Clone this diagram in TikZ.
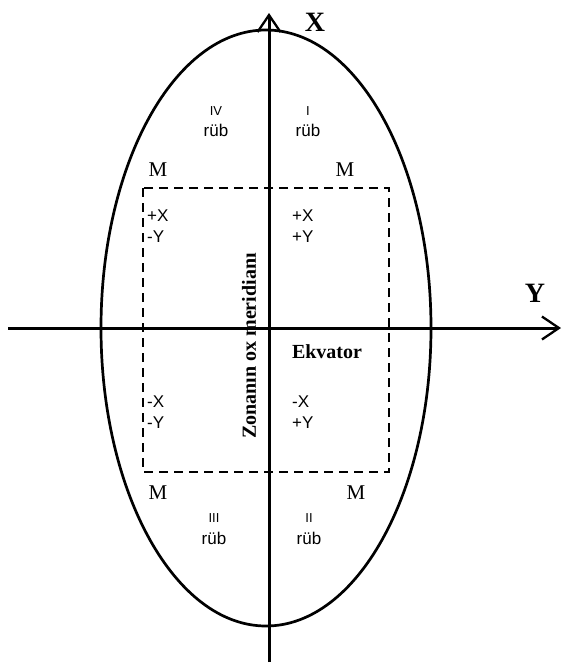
\documentclass[tikz,border=0pt]{standalone}
\usepackage{fontspec}
\setmainfont{Liberation Serif}
\setsansfont{Liberation Sans}
\usetikzlibrary{arrows.meta}
\begin{document}
\begin{tikzpicture}[x=1pt,y=-1pt,
  axis/.style={line width=3pt,-{Straight Barb[length=17pt,width=23pt,line width=2.3pt]}},
  oval/.style={line width=2.7pt},
  dashbox/.style={line width=2.6pt,dash pattern=on 9pt off 6pt},
  big/.style={font=\fontsize{28}{30}\selectfont\bfseries},
  mlab/.style={font=\fontsize{21}{23}\selectfont},
  sign/.style={font=\sffamily\fontsize{17}{19}\selectfont,anchor=west,inner sep=0pt},
  roman/.style={font=\sffamily\fontsize{13}{14}\selectfont,inner sep=0pt},
  rub/.style={font=\sffamily\fontsize{17}{19}\selectfont,inner sep=0pt},
  boldlab/.style={font=\fontsize{20}{22}\selectfont\bfseries}]
\useasboundingbox (0,0) rectangle (563,664);
\coordinate (xs) at (269,662);
\coordinate (xe) at (269,13);
\coordinate (ys) at (8,328);
\coordinate (ye) at (561,328);
\draw[oval] (266,328) ellipse[x radius=165, y radius=298];
\draw[dashbox] (143,188) rectangle (389,472);
\draw[axis] (xs) -- (xe);
\draw[axis] (ys) -- (ye);
\node[big] (X) at (315,22) {X};
\node[big] (Y) at (535,293) {Y};
\node[roman] (r4) at (216,111) {IV};
\node[rub] (r4b) at (216,130) {rüb};
\node[roman] (r1) at (308,111) {I};
\node[rub] (r1b) at (308,130) {rüb};
\node[roman] (r3) at (214,518) {III};
\node[rub] (r3b) at (214,538) {rüb};
\node[roman] (r2) at (309,518) {II};
\node[rub] (r2b) at (309,538) {rüb};
\node[mlab] (m1) at (158,170) {M};
\node[mlab] (m2) at (345,170) {M};
\node[mlab] (m3) at (158,493) {M};
\node[mlab] (m4) at (356,493) {M};
\node[sign] (a1) at (147,216) {+X};
\node[sign] (a2) at (147,237) {-Y};
\node[sign] (b1) at (292,216) {+X};
\node[sign] (b2) at (292,237) {+Y};
\node[sign] (c1) at (147,402) {-X};
\node[sign] (c2) at (147,423) {-Y};
\node[sign] (d1) at (292,402) {-X};
\node[sign] (d2) at (292,423) {+Y};
\node[boldlab] (ekv) at (327,352) {Ekvator};
\node[boldlab,rotate=90] (zon) at (249,346) {Zonanın ox meridianı};
\end{tikzpicture}
\end{document}
